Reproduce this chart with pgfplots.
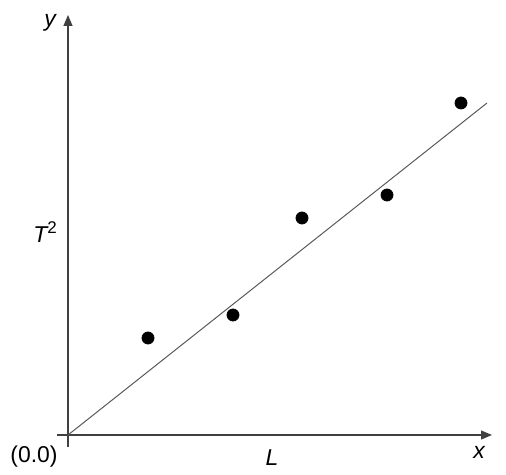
\documentclass[border=0pt]{standalone}
\usepackage{pgfplots}
\pgfplotsset{compat=1.18}
\usepackage{fontspec}
\setmainfont{Liberation Sans}
\usetikzlibrary{arrows.meta}
\begin{document}
\begin{tikzpicture}
\begin{axis}[
  x=0.5bp, y=0.5bp,
  axis lines=none,
  xmin=-11, xmax=424, ymin=-12, ymax=420,
  ticks=none,
  clip=false,
]
\path (axis cs:-68,-38) rectangle (axis cs:438,435);
\draw[draw=black!75, line width=0.6bp, -{Triangle[length=5.5bp,width=4.5bp]}] (axis cs:-11,0) -- (axis cs:424,0);
\draw[draw=black!75, line width=0.6bp, -{Triangle[length=5.5bp,width=4.5bp]}] (axis cs:0,-12) -- (axis cs:0,420);
\addplot[draw=black!65, line width=0.5bp] coordinates {(0,0) (419,332)};
\addplot[only marks, mark=*, mark size=3bp, mark options={fill=black, draw=black}] coordinates {
(80,97) (165,120) (234,217) (319,240) (393,332)};
\node[font=\itshape\fontsize{11.5}{13}\selectfont] at (axis cs:-18,412) {y};
\node[font=\itshape\fontsize{11.5}{13}\selectfont] at (axis cs:411,-17) {x};
\node[font=\itshape\fontsize{11.5}{13}\selectfont] at (axis cs:-23,203) {T\raisebox{0.75ex}{\fontsize{8.5}{9}\selectfont\upshape 2}};
\node[font=\itshape\fontsize{11.5}{13}\selectfont] at (axis cs:204,-23) {L};
\node[font=\fontsize{11.5}{13}\selectfont] at (axis cs:-34,-22) {(0.0)};
\end{axis}
\end{tikzpicture}
\end{document}
